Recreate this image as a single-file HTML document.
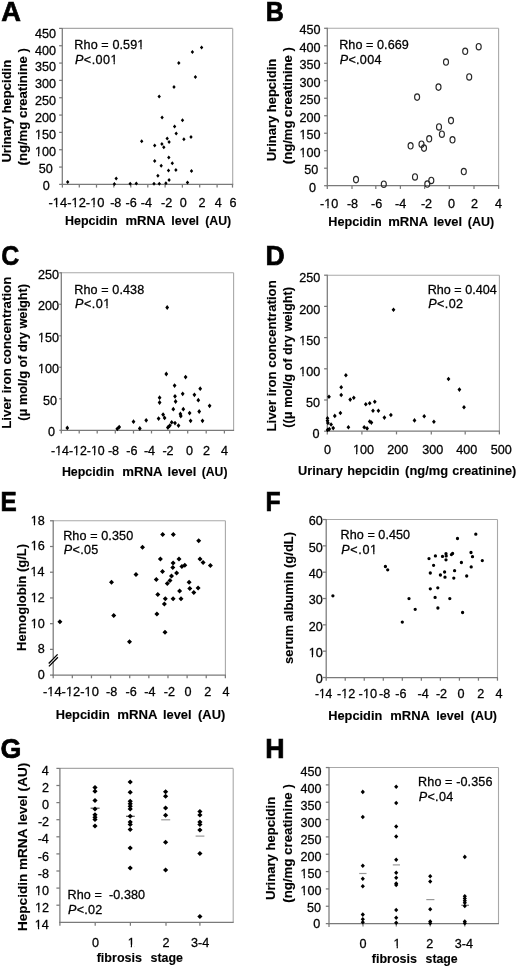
<!DOCTYPE html>
<html><head><meta charset="utf-8"><title>Figure</title>
<style>
html,body{margin:0;padding:0;background:#fff;}
body{width:520px;height:969px;overflow:hidden;}
svg{display:block;font-family:"Liberation Sans",sans-serif;filter:grayscale(1);}
text{white-space:pre;stroke:#000;stroke-width:0.28px;}
text[font-weight="bold"]{stroke-width:0.12px;}
.pl text{stroke-width:0.7px;}
</style></head><body>
<svg width="520" height="969" viewBox="0 0 520 969">
<rect width="520" height="969" fill="#fff"/>
<g class="pl">
<text x="1.22" y="20.92" font-size="28.00" font-weight="bold" fill="#000" textLength="19.68" lengthAdjust="spacingAndGlyphs">A</text>
</g>
<g class="pl">
<text x="265.84" y="21.42" font-size="28.00" font-weight="bold" fill="#000" textLength="18.09" lengthAdjust="spacingAndGlyphs">B</text>
</g>
<g class="pl">
<text x="1.18" y="264.65" font-size="28.00" font-weight="bold" fill="#000" textLength="18.01" lengthAdjust="spacingAndGlyphs">C</text>
</g>
<g class="pl">
<text x="265.44" y="264.62" font-size="28.00" font-weight="bold" fill="#000" textLength="19.28" lengthAdjust="spacingAndGlyphs">D</text>
</g>
<g class="pl">
<text x="0.59" y="511.12" font-size="28.00" font-weight="bold" fill="#000" textLength="16.24" lengthAdjust="spacingAndGlyphs">E</text>
</g>
<g class="pl">
<text x="265.56" y="511.27" font-size="28.00" font-weight="bold" fill="#000" textLength="15.12" lengthAdjust="spacingAndGlyphs">F</text>
</g>
<g class="pl">
<text x="0.40" y="757.75" font-size="28.00" font-weight="bold" fill="#000" textLength="20.86" lengthAdjust="spacingAndGlyphs">G</text>
</g>
<g class="pl">
<text x="265.13" y="757.88" font-size="28.00" font-weight="bold" fill="#000" textLength="19.36" lengthAdjust="spacingAndGlyphs">H</text>
</g>
<line x1="62.30" y1="28.40" x2="232.70" y2="28.40" stroke="#a8a8a8" stroke-width="1.10"/>
<line x1="232.70" y1="28.40" x2="232.70" y2="184.40" stroke="#a8a8a8" stroke-width="1.10"/>
<line x1="62.30" y1="27.90" x2="62.30" y2="185.00" stroke="#7a7a7a" stroke-width="1.25"/>
<line x1="61.70" y1="184.40" x2="233.20" y2="184.40" stroke="#7a7a7a" stroke-width="1.25"/>
<line x1="59.10" y1="184.40" x2="62.30" y2="184.40" stroke="#7a7a7a" stroke-width="1.25"/>
<line x1="59.10" y1="167.07" x2="62.30" y2="167.07" stroke="#7a7a7a" stroke-width="1.25"/>
<line x1="59.10" y1="149.73" x2="62.30" y2="149.73" stroke="#7a7a7a" stroke-width="1.25"/>
<line x1="59.10" y1="132.40" x2="62.30" y2="132.40" stroke="#7a7a7a" stroke-width="1.25"/>
<line x1="59.10" y1="115.07" x2="62.30" y2="115.07" stroke="#7a7a7a" stroke-width="1.25"/>
<line x1="59.10" y1="97.74" x2="62.30" y2="97.74" stroke="#7a7a7a" stroke-width="1.25"/>
<line x1="59.10" y1="80.40" x2="62.30" y2="80.40" stroke="#7a7a7a" stroke-width="1.25"/>
<line x1="59.10" y1="63.07" x2="62.30" y2="63.07" stroke="#7a7a7a" stroke-width="1.25"/>
<line x1="59.10" y1="45.74" x2="62.30" y2="45.74" stroke="#7a7a7a" stroke-width="1.25"/>
<line x1="59.10" y1="28.40" x2="62.30" y2="28.40" stroke="#7a7a7a" stroke-width="1.25"/>
<line x1="62.40" y1="184.40" x2="62.40" y2="187.60" stroke="#7a7a7a" stroke-width="1.25"/>
<line x1="79.30" y1="184.40" x2="79.30" y2="187.60" stroke="#7a7a7a" stroke-width="1.25"/>
<line x1="96.50" y1="184.40" x2="96.50" y2="187.60" stroke="#7a7a7a" stroke-width="1.25"/>
<line x1="113.80" y1="184.40" x2="113.80" y2="187.60" stroke="#7a7a7a" stroke-width="1.25"/>
<line x1="130.80" y1="184.40" x2="130.80" y2="187.60" stroke="#7a7a7a" stroke-width="1.25"/>
<line x1="147.80" y1="184.40" x2="147.80" y2="187.60" stroke="#7a7a7a" stroke-width="1.25"/>
<line x1="165.10" y1="184.40" x2="165.10" y2="187.60" stroke="#7a7a7a" stroke-width="1.25"/>
<line x1="182.40" y1="184.40" x2="182.40" y2="187.60" stroke="#7a7a7a" stroke-width="1.25"/>
<line x1="199.70" y1="184.40" x2="199.70" y2="187.60" stroke="#7a7a7a" stroke-width="1.25"/>
<line x1="217.10" y1="184.40" x2="217.10" y2="187.60" stroke="#7a7a7a" stroke-width="1.25"/>
<line x1="232.50" y1="184.40" x2="232.50" y2="187.60" stroke="#7a7a7a" stroke-width="1.25"/>
<text x="42.70" y="189.55" font-size="12.60">0</text>
<text x="38.80" y="172.67" font-size="12.60">50</text>
<text x="34.90" y="155.79" font-size="12.60">100</text>
<text x="34.90" y="138.91" font-size="12.60">150</text>
<text x="34.90" y="122.03" font-size="12.60">200</text>
<text x="34.90" y="105.15" font-size="12.60">250</text>
<text x="34.90" y="88.27" font-size="12.60">300</text>
<text x="34.90" y="71.39" font-size="12.60">350</text>
<text x="34.90" y="54.51" font-size="12.60">400</text>
<text x="34.90" y="37.63" font-size="12.60">450</text>
<text x="48.59" y="206.80" font-size="12.60" fill="#000" textLength="55.91" lengthAdjust="spacingAndGlyphs">-14-12-10</text>
<text x="110.15" y="206.80" font-size="12.60" fill="#000" >-8</text>
<text x="125.45" y="206.80" font-size="12.60" fill="#000" >-6</text>
<text x="140.70" y="206.80" font-size="12.60" fill="#000" >-4</text>
<text x="161.03" y="206.80" font-size="12.60" fill="#000" >-2</text>
<text x="179.70" y="206.80" font-size="12.60" fill="#000" >0</text>
<text x="198.57" y="206.80" font-size="12.60" fill="#000" >2</text>
<text x="214.83" y="206.80" font-size="12.60" fill="#000" >4</text>
<text x="229.55" y="206.80" font-size="12.60" fill="#000" >6</text>
<text x="64.97" y="225.40" font-size="12.80" font-weight="bold" fill="#000" textLength="52.66" lengthAdjust="spacingAndGlyphs">Hepcidin</text>
<text x="125.53" y="225.40" font-size="12.80" font-weight="bold" fill="#000" textLength="39.83" lengthAdjust="spacingAndGlyphs">mRNA</text>
<text x="171.22" y="225.40" font-size="12.80" font-weight="bold" fill="#000" textLength="27.88" lengthAdjust="spacingAndGlyphs">level</text>
<text x="205.17" y="225.40" font-size="12.80" font-weight="bold" fill="#000" textLength="26.02" lengthAdjust="spacingAndGlyphs">(AU)</text>
<text transform="translate(11.30 162.60) rotate(-90)" font-size="13.00" font-weight="bold" textLength="102.78" lengthAdjust="spacingAndGlyphs">Urinary hepcidin</text>
<text transform="translate(27.10 165.46) rotate(-90)" font-size="13.00" font-weight="bold" textLength="117.30" lengthAdjust="spacingAndGlyphs">(ng/mg creatinine )</text>
<text x="74.35" y="49.30" font-size="12.60" textLength="69.96" lengthAdjust="spacing">Rho = 0.591</text>
<text x="75.00" y="63.80" font-size="12.60" textLength="42.49" lengthAdjust="spacing"><tspan font-style="italic">P</tspan>&lt;.001</text>
<path fill="#000" d="M67.70 180.10L69.40 182.10L67.70 184.10L66.00 182.10ZM114.40 182.00L116.10 184.00L114.40 186.00L112.70 184.00ZM116.20 176.50L117.90 178.50L116.20 180.50L114.50 178.50ZM130.20 181.80L131.90 183.80L130.20 185.80L128.50 183.80ZM136.30 181.50L138.00 183.50L136.30 185.50L134.60 183.50ZM141.70 139.30L143.40 141.30L141.70 143.30L140.00 141.30ZM162.10 115.60L163.80 117.60L162.10 119.60L160.40 117.60ZM182.50 118.30L184.20 120.30L182.50 122.30L180.80 120.30ZM174.60 124.60L176.30 126.60L174.60 128.60L172.90 126.60ZM176.20 131.60L177.90 133.60L176.20 135.60L174.50 133.60ZM167.20 136.60L168.90 138.60L167.20 140.60L165.50 138.60ZM169.10 140.00L170.80 142.00L169.10 144.00L167.40 142.00ZM183.90 137.30L185.60 139.30L183.90 141.30L182.20 139.30ZM191.00 135.00L192.70 137.00L191.00 139.00L189.30 137.00ZM154.70 143.60L156.40 145.60L154.70 147.60L153.00 145.60ZM161.90 142.10L163.60 144.10L161.90 146.10L160.20 144.10ZM163.80 145.30L165.50 147.30L163.80 149.30L162.10 147.30ZM154.70 159.10L156.40 161.10L154.70 163.10L153.00 161.10ZM168.80 155.40L170.50 157.40L168.80 159.40L167.10 157.40ZM172.30 161.20L174.00 163.20L172.30 165.20L170.60 163.20ZM161.20 163.80L162.90 165.80L161.20 167.80L159.50 165.80ZM168.50 168.60L170.20 170.60L168.50 172.60L166.80 170.60ZM175.90 168.10L177.60 170.10L175.90 172.10L174.20 170.10ZM191.50 169.10L193.20 171.10L191.50 173.10L189.80 171.10ZM157.90 173.80L159.60 175.80L157.90 177.80L156.20 175.80ZM169.10 178.10L170.80 180.10L169.10 182.10L167.40 180.10ZM187.50 180.40L189.20 182.40L187.50 184.40L185.80 182.40ZM154.00 181.70L155.70 183.70L154.00 185.70L152.30 183.70ZM159.30 181.70L161.00 183.70L159.30 185.70L157.60 183.70ZM165.90 181.20L167.60 183.20L165.90 185.20L164.20 183.20ZM201.60 45.50L203.30 47.50L201.60 49.50L199.90 47.50ZM192.40 49.90L194.10 51.90L192.40 53.90L190.70 51.90ZM178.80 60.90L180.50 62.90L178.80 64.90L177.10 62.90ZM195.40 74.90L197.10 76.90L195.40 78.90L193.70 76.90ZM174.00 85.10L175.70 87.10L174.00 89.10L172.30 87.10ZM159.20 94.50L160.90 96.50L159.20 98.50L157.50 96.50Z"/>
<line x1="327.30" y1="28.30" x2="498.60" y2="28.30" stroke="#a8a8a8" stroke-width="1.10"/>
<line x1="498.60" y1="28.30" x2="498.60" y2="185.70" stroke="#a8a8a8" stroke-width="1.10"/>
<line x1="327.30" y1="27.80" x2="327.30" y2="186.30" stroke="#7a7a7a" stroke-width="1.25"/>
<line x1="326.70" y1="185.70" x2="499.10" y2="185.70" stroke="#7a7a7a" stroke-width="1.25"/>
<line x1="324.10" y1="185.70" x2="327.30" y2="185.70" stroke="#7a7a7a" stroke-width="1.25"/>
<line x1="324.10" y1="168.21" x2="327.30" y2="168.21" stroke="#7a7a7a" stroke-width="1.25"/>
<line x1="324.10" y1="150.72" x2="327.30" y2="150.72" stroke="#7a7a7a" stroke-width="1.25"/>
<line x1="324.10" y1="133.23" x2="327.30" y2="133.23" stroke="#7a7a7a" stroke-width="1.25"/>
<line x1="324.10" y1="115.74" x2="327.30" y2="115.74" stroke="#7a7a7a" stroke-width="1.25"/>
<line x1="324.10" y1="98.25" x2="327.30" y2="98.25" stroke="#7a7a7a" stroke-width="1.25"/>
<line x1="324.10" y1="80.76" x2="327.30" y2="80.76" stroke="#7a7a7a" stroke-width="1.25"/>
<line x1="324.10" y1="63.27" x2="327.30" y2="63.27" stroke="#7a7a7a" stroke-width="1.25"/>
<line x1="324.10" y1="45.78" x2="327.30" y2="45.78" stroke="#7a7a7a" stroke-width="1.25"/>
<line x1="324.10" y1="28.29" x2="327.30" y2="28.29" stroke="#7a7a7a" stroke-width="1.25"/>
<line x1="327.30" y1="185.70" x2="327.30" y2="188.90" stroke="#7a7a7a" stroke-width="1.25"/>
<line x1="352.00" y1="185.70" x2="352.00" y2="188.90" stroke="#7a7a7a" stroke-width="1.25"/>
<line x1="375.80" y1="185.70" x2="375.80" y2="188.90" stroke="#7a7a7a" stroke-width="1.25"/>
<line x1="400.40" y1="185.70" x2="400.40" y2="188.90" stroke="#7a7a7a" stroke-width="1.25"/>
<line x1="424.60" y1="185.70" x2="424.60" y2="188.90" stroke="#7a7a7a" stroke-width="1.25"/>
<line x1="449.30" y1="185.70" x2="449.30" y2="188.90" stroke="#7a7a7a" stroke-width="1.25"/>
<line x1="474.00" y1="185.70" x2="474.00" y2="188.90" stroke="#7a7a7a" stroke-width="1.25"/>
<line x1="498.60" y1="185.70" x2="498.60" y2="188.90" stroke="#7a7a7a" stroke-width="1.25"/>
<text x="308.90" y="191.55" font-size="12.60">0</text>
<text x="304.20" y="174.06" font-size="12.60">50</text>
<text x="299.50" y="156.57" font-size="12.60">100</text>
<text x="299.50" y="139.08" font-size="12.60">150</text>
<text x="299.50" y="121.59" font-size="12.60">200</text>
<text x="299.50" y="104.10" font-size="12.60">250</text>
<text x="299.50" y="86.61" font-size="12.60">300</text>
<text x="299.50" y="69.12" font-size="12.60">350</text>
<text x="299.50" y="51.63" font-size="12.60">400</text>
<text x="299.50" y="34.14" font-size="12.60">450</text>
<text x="320.07" y="208.20" font-size="12.60" fill="#000" >-10</text>
<text x="346.90" y="208.20" font-size="12.60" fill="#000" >-8</text>
<text x="371.10" y="208.20" font-size="12.60" fill="#000" >-6</text>
<text x="395.10" y="208.20" font-size="12.60" fill="#000" >-4</text>
<text x="420.93" y="208.20" font-size="12.60" fill="#000" >-2</text>
<text x="448.00" y="208.20" font-size="12.60" fill="#000" >0</text>
<text x="471.08" y="208.20" font-size="12.60" fill="#000" >2</text>
<text x="495.02" y="208.20" font-size="12.60" fill="#000" >4</text>
<text x="328.26" y="225.90" font-size="12.80" font-weight="bold" fill="#000" textLength="53.48" lengthAdjust="spacingAndGlyphs">Hepcidin</text>
<text x="388.23" y="225.90" font-size="12.80" font-weight="bold" fill="#000" textLength="39.94" lengthAdjust="spacingAndGlyphs">mRNA</text>
<text x="433.49" y="225.90" font-size="12.80" font-weight="bold" fill="#000" textLength="28.63" lengthAdjust="spacingAndGlyphs">level</text>
<text x="467.77" y="225.90" font-size="12.80" font-weight="bold" fill="#000" textLength="26.33" lengthAdjust="spacingAndGlyphs">(AU)</text>
<text transform="translate(275.60 161.30) rotate(-90)" font-size="13.00" font-weight="bold" textLength="102.47" lengthAdjust="spacingAndGlyphs">Urinary hepcidin</text>
<text transform="translate(292.10 164.15) rotate(-90)" font-size="13.00" font-weight="bold" textLength="116.99" lengthAdjust="spacingAndGlyphs">(ng/mg creatinine )</text>
<text x="339.15" y="48.80" font-size="12.60" textLength="69.66" lengthAdjust="spacing">Rho = 0.669</text>
<text x="339.80" y="63.50" font-size="12.60" textLength="41.63" lengthAdjust="spacing"><tspan font-style="italic">P</tspan>&lt;.004</text>
<ellipse cx="478.70" cy="46.70" rx="2.50" ry="3.20" fill="none" stroke="#2a2a2a" stroke-width="1.15"/>
<ellipse cx="465.20" cy="51.30" rx="2.50" ry="3.20" fill="none" stroke="#2a2a2a" stroke-width="1.15"/>
<ellipse cx="446.00" cy="62.10" rx="2.50" ry="3.20" fill="none" stroke="#2a2a2a" stroke-width="1.15"/>
<ellipse cx="469.20" cy="76.90" rx="2.50" ry="3.20" fill="none" stroke="#2a2a2a" stroke-width="1.15"/>
<ellipse cx="438.50" cy="87.10" rx="2.50" ry="3.20" fill="none" stroke="#2a2a2a" stroke-width="1.15"/>
<ellipse cx="417.10" cy="97.10" rx="2.50" ry="3.20" fill="none" stroke="#2a2a2a" stroke-width="1.15"/>
<ellipse cx="451.00" cy="120.60" rx="2.50" ry="3.20" fill="none" stroke="#2a2a2a" stroke-width="1.15"/>
<ellipse cx="439.00" cy="126.90" rx="2.50" ry="3.20" fill="none" stroke="#2a2a2a" stroke-width="1.15"/>
<ellipse cx="441.90" cy="134.20" rx="2.50" ry="3.20" fill="none" stroke="#2a2a2a" stroke-width="1.15"/>
<ellipse cx="429.20" cy="138.80" rx="2.50" ry="3.20" fill="none" stroke="#2a2a2a" stroke-width="1.15"/>
<ellipse cx="452.50" cy="139.80" rx="2.50" ry="3.20" fill="none" stroke="#2a2a2a" stroke-width="1.15"/>
<ellipse cx="410.60" cy="145.80" rx="2.50" ry="3.20" fill="none" stroke="#2a2a2a" stroke-width="1.15"/>
<ellipse cx="421.50" cy="144.20" rx="2.50" ry="3.20" fill="none" stroke="#2a2a2a" stroke-width="1.15"/>
<ellipse cx="424.00" cy="148.10" rx="2.50" ry="3.20" fill="none" stroke="#2a2a2a" stroke-width="1.15"/>
<ellipse cx="415.00" cy="176.90" rx="2.50" ry="3.20" fill="none" stroke="#2a2a2a" stroke-width="1.15"/>
<ellipse cx="463.80" cy="171.50" rx="2.50" ry="3.20" fill="none" stroke="#2a2a2a" stroke-width="1.15"/>
<ellipse cx="431.30" cy="180.40" rx="2.50" ry="3.20" fill="none" stroke="#2a2a2a" stroke-width="1.15"/>
<ellipse cx="427.30" cy="184.00" rx="2.50" ry="3.20" fill="none" stroke="#2a2a2a" stroke-width="1.15"/>
<ellipse cx="356.00" cy="179.60" rx="2.50" ry="3.20" fill="none" stroke="#2a2a2a" stroke-width="1.15"/>
<ellipse cx="383.80" cy="184.20" rx="2.50" ry="3.20" fill="none" stroke="#2a2a2a" stroke-width="1.15"/>
<line x1="61.30" y1="272.80" x2="233.60" y2="272.80" stroke="#a8a8a8" stroke-width="1.10"/>
<line x1="233.60" y1="272.80" x2="233.60" y2="430.30" stroke="#a8a8a8" stroke-width="1.10"/>
<line x1="61.30" y1="272.30" x2="61.30" y2="430.90" stroke="#7a7a7a" stroke-width="1.25"/>
<line x1="60.70" y1="430.30" x2="234.10" y2="430.30" stroke="#7a7a7a" stroke-width="1.25"/>
<line x1="59.30" y1="430.30" x2="61.30" y2="430.30" stroke="#7a7a7a" stroke-width="1.25"/>
<line x1="59.30" y1="398.80" x2="61.30" y2="398.80" stroke="#7a7a7a" stroke-width="1.25"/>
<line x1="59.30" y1="367.30" x2="61.30" y2="367.30" stroke="#7a7a7a" stroke-width="1.25"/>
<line x1="59.30" y1="335.80" x2="61.30" y2="335.80" stroke="#7a7a7a" stroke-width="1.25"/>
<line x1="59.30" y1="304.30" x2="61.30" y2="304.30" stroke="#7a7a7a" stroke-width="1.25"/>
<line x1="59.30" y1="272.80" x2="61.30" y2="272.80" stroke="#7a7a7a" stroke-width="1.25"/>
<line x1="61.30" y1="430.30" x2="61.30" y2="433.50" stroke="#7a7a7a" stroke-width="1.25"/>
<line x1="79.20" y1="430.30" x2="79.20" y2="433.50" stroke="#7a7a7a" stroke-width="1.25"/>
<line x1="97.20" y1="430.30" x2="97.20" y2="433.50" stroke="#7a7a7a" stroke-width="1.25"/>
<line x1="115.30" y1="430.30" x2="115.30" y2="433.50" stroke="#7a7a7a" stroke-width="1.25"/>
<line x1="133.50" y1="430.30" x2="133.50" y2="433.50" stroke="#7a7a7a" stroke-width="1.25"/>
<line x1="151.50" y1="430.30" x2="151.50" y2="433.50" stroke="#7a7a7a" stroke-width="1.25"/>
<line x1="169.70" y1="430.30" x2="169.70" y2="433.50" stroke="#7a7a7a" stroke-width="1.25"/>
<line x1="187.70" y1="430.30" x2="187.70" y2="433.50" stroke="#7a7a7a" stroke-width="1.25"/>
<line x1="206.20" y1="430.30" x2="206.20" y2="433.50" stroke="#7a7a7a" stroke-width="1.25"/>
<line x1="224.40" y1="430.30" x2="224.40" y2="433.50" stroke="#7a7a7a" stroke-width="1.25"/>
<text x="48.10" y="436.05" font-size="12.60">0</text>
<text x="43.00" y="404.55" font-size="12.60">50</text>
<text x="37.90" y="373.05" font-size="12.60">100</text>
<text x="37.90" y="341.55" font-size="12.60">150</text>
<text x="37.90" y="310.05" font-size="12.60">200</text>
<text x="37.90" y="278.55" font-size="12.60">250</text>
<text x="51.06" y="455.30" font-size="12.60" fill="#000" textLength="53.62" lengthAdjust="spacingAndGlyphs">-14-12-10</text>
<text x="107.90" y="455.30" font-size="12.60" fill="#000" >-8</text>
<text x="126.20" y="455.30" font-size="12.60" fill="#000" >-6</text>
<text x="143.90" y="455.30" font-size="12.60" fill="#000" >-4</text>
<text x="162.43" y="455.30" font-size="12.60" fill="#000" >-2</text>
<text x="186.00" y="455.30" font-size="12.60" fill="#000" >0</text>
<text x="203.07" y="455.30" font-size="12.60" fill="#000" >2</text>
<text x="220.93" y="455.30" font-size="12.60" fill="#000" >4</text>
<text x="61.88" y="475.60" font-size="12.80" font-weight="bold" fill="#000" textLength="52.45" lengthAdjust="spacingAndGlyphs">Hepcidin</text>
<text x="122.23" y="475.60" font-size="12.80" font-weight="bold" fill="#000" textLength="40.25" lengthAdjust="spacingAndGlyphs">mRNA</text>
<text x="167.59" y="475.60" font-size="12.80" font-weight="bold" fill="#000" textLength="28.63" lengthAdjust="spacingAndGlyphs">level</text>
<text x="201.78" y="475.60" font-size="12.80" font-weight="bold" fill="#000" textLength="25.70" lengthAdjust="spacingAndGlyphs">(AU)</text>
<text transform="translate(11.10 428.77) rotate(-90)" font-size="13.00" font-weight="bold" textLength="152.08" lengthAdjust="spacingAndGlyphs">Liver iron concentration</text>
<text transform="translate(27.10 420.64) rotate(-90)" font-size="13.00" font-weight="bold" textLength="136.66" lengthAdjust="spacingAndGlyphs">(μ mol/g of dry weight)</text>
<text x="74.35" y="293.50" font-size="12.60" textLength="69.81" lengthAdjust="spacing">Rho = 0.438</text>
<text x="75.00" y="307.90" font-size="12.60" textLength="35.33" lengthAdjust="spacing"><tspan font-style="italic">P</tspan>&lt;.01</text>
<path fill="#000" d="M67.30 425.50L69.20 427.90L67.30 430.30L65.40 427.90ZM117.30 426.40L119.20 428.80L117.30 431.20L115.40 428.80ZM119.20 424.70L121.10 427.10L119.20 429.50L117.30 427.10ZM133.50 419.30L135.40 421.70L133.50 424.10L131.60 421.70ZM139.80 426.10L141.70 428.50L139.80 430.90L137.90 428.50ZM146.20 417.90L148.10 420.30L146.20 422.70L144.30 420.30ZM158.60 416.20L160.50 418.60L158.60 421.00L156.70 418.60ZM159.60 395.30L161.50 397.70L159.60 400.10L157.70 397.70ZM159.60 400.10L161.50 402.50L159.60 404.90L157.70 402.50ZM163.10 412.20L165.00 414.60L163.10 417.00L161.20 414.60ZM164.60 415.50L166.50 417.90L164.60 420.30L162.70 417.90ZM166.30 371.60L168.20 374.00L166.30 376.40L164.40 374.00ZM167.20 305.10L169.10 307.50L167.20 309.90L165.30 307.50ZM167.90 425.10L169.80 427.50L167.90 429.90L166.00 427.50ZM169.80 423.20L171.70 425.60L169.80 428.00L167.90 425.60ZM171.70 419.90L173.60 422.30L171.70 424.70L169.80 422.30ZM173.30 406.80L175.20 409.20L173.30 411.60L171.40 409.20ZM174.60 383.20L176.50 385.60L174.60 388.00L172.70 385.60ZM175.00 393.90L176.90 396.30L175.00 398.70L173.10 396.30ZM175.60 399.10L177.50 401.50L175.60 403.90L173.70 401.50ZM175.00 420.70L176.90 423.10L175.00 425.50L173.10 423.10ZM178.50 423.20L180.40 425.60L178.50 428.00L176.60 425.60ZM180.40 411.60L182.30 414.00L180.40 416.40L178.50 414.00ZM180.80 413.60L182.70 416.00L180.80 418.40L178.90 416.00ZM182.70 391.40L184.60 393.80L182.70 396.20L180.80 393.80ZM183.30 406.80L185.20 409.20L183.30 411.60L181.40 409.20ZM185.60 374.70L187.50 377.10L185.60 379.50L183.70 377.10ZM189.60 410.70L191.50 413.10L189.60 415.50L187.70 413.10ZM190.60 418.40L192.50 420.80L190.60 423.20L188.70 420.80ZM194.40 392.40L196.30 394.80L194.40 397.20L192.50 394.80ZM198.30 397.80L200.20 400.20L198.30 402.60L196.40 400.20ZM199.20 409.10L201.10 411.50L199.20 413.90L197.30 411.50ZM200.20 386.30L202.10 388.70L200.20 391.10L198.30 388.70ZM202.50 418.40L204.40 420.80L202.50 423.20L200.60 420.80ZM209.60 403.40L211.50 405.80L209.60 408.20L207.70 405.80Z"/>
<line x1="327.30" y1="275.20" x2="499.40" y2="275.20" stroke="#a8a8a8" stroke-width="1.10"/>
<line x1="499.40" y1="275.20" x2="499.40" y2="431.20" stroke="#a8a8a8" stroke-width="1.10"/>
<line x1="327.30" y1="274.70" x2="327.30" y2="431.80" stroke="#7a7a7a" stroke-width="1.25"/>
<line x1="326.70" y1="431.20" x2="499.90" y2="431.20" stroke="#7a7a7a" stroke-width="1.25"/>
<line x1="324.10" y1="431.20" x2="327.30" y2="431.20" stroke="#7a7a7a" stroke-width="1.25"/>
<line x1="324.10" y1="400.00" x2="327.30" y2="400.00" stroke="#7a7a7a" stroke-width="1.25"/>
<line x1="324.10" y1="368.80" x2="327.30" y2="368.80" stroke="#7a7a7a" stroke-width="1.25"/>
<line x1="324.10" y1="337.60" x2="327.30" y2="337.60" stroke="#7a7a7a" stroke-width="1.25"/>
<line x1="324.10" y1="306.40" x2="327.30" y2="306.40" stroke="#7a7a7a" stroke-width="1.25"/>
<line x1="324.10" y1="275.20" x2="327.30" y2="275.20" stroke="#7a7a7a" stroke-width="1.25"/>
<line x1="327.30" y1="431.20" x2="327.30" y2="434.40" stroke="#7a7a7a" stroke-width="1.25"/>
<line x1="361.90" y1="431.20" x2="361.90" y2="434.40" stroke="#7a7a7a" stroke-width="1.25"/>
<line x1="396.50" y1="431.20" x2="396.50" y2="434.40" stroke="#7a7a7a" stroke-width="1.25"/>
<line x1="431.30" y1="431.20" x2="431.30" y2="434.40" stroke="#7a7a7a" stroke-width="1.25"/>
<line x1="465.20" y1="431.20" x2="465.20" y2="434.40" stroke="#7a7a7a" stroke-width="1.25"/>
<line x1="499.40" y1="431.20" x2="499.40" y2="434.40" stroke="#7a7a7a" stroke-width="1.25"/>
<text x="312.50" y="438.35" font-size="12.60">0</text>
<text x="305.90" y="407.15" font-size="12.60">50</text>
<text x="299.30" y="375.95" font-size="12.60">100</text>
<text x="299.30" y="344.75" font-size="12.60">150</text>
<text x="299.30" y="313.55" font-size="12.60">200</text>
<text x="299.30" y="282.35" font-size="12.60">250</text>
<text x="324.10" y="454.30" font-size="12.60" fill="#000" >0</text>
<text x="352.95" y="454.30" font-size="12.60" fill="#000" >100</text>
<text x="387.23" y="454.30" font-size="12.60" fill="#000" >200</text>
<text x="422.30" y="454.30" font-size="12.60" fill="#000" >300</text>
<text x="456.30" y="454.30" font-size="12.60" fill="#000" >400</text>
<text x="490.80" y="454.30" font-size="12.60" fill="#000" >500</text>
<text x="297.95" y="475.10" font-size="12.80" font-weight="bold" fill="#000" >Urinary</text>
<text x="347.20" y="475.10" font-size="12.80" font-weight="bold" fill="#000" textLength="52.37" lengthAdjust="spacingAndGlyphs">hepcidin</text>
<text x="405.14" y="475.10" font-size="12.80" font-weight="bold" fill="#000" textLength="43.02" lengthAdjust="spacingAndGlyphs">(ng/mg</text>
<text x="452.21" y="475.10" font-size="12.80" font-weight="bold" fill="#000" textLength="63.92" lengthAdjust="spacingAndGlyphs">creatinine)</text>
<text transform="translate(276.20 431.56) rotate(-90)" font-size="13.00" font-weight="bold" textLength="151.28" lengthAdjust="spacingAndGlyphs">Liver iron concentration</text>
<text transform="translate(292.10 427.64) rotate(-90)" font-size="13.00" font-weight="bold" textLength="140.54" lengthAdjust="spacingAndGlyphs">((μ mol/g of dry weight)</text>
<text x="427.65" y="293.70" font-size="12.60" textLength="69.21" lengthAdjust="spacing">Rho = 0.404</text>
<text x="428.30" y="307.90" font-size="12.60" textLength="34.83" lengthAdjust="spacing"><tspan font-style="italic">P</tspan>&lt;.02</text>
<path fill="#000" d="M345.90 373.00L347.80 375.30L345.90 377.60L344.00 375.30ZM341.20 385.00L343.10 387.30L341.20 389.60L339.30 387.30ZM341.20 392.70L343.10 395.00L341.20 397.30L339.30 395.00ZM329.00 394.40L330.90 396.70L329.00 399.00L327.10 396.70ZM350.20 397.30L352.10 399.60L350.20 401.90L348.30 399.60ZM353.80 395.50L355.70 397.80L353.80 400.10L351.90 397.80ZM365.80 401.90L367.70 404.20L365.80 406.50L363.90 404.20ZM369.70 400.90L371.60 403.20L369.70 405.50L367.80 403.20ZM374.80 399.40L376.70 401.70L374.80 404.00L372.90 401.70ZM373.00 408.50L374.90 410.80L373.00 413.10L371.10 410.80ZM378.40 408.50L380.30 410.80L378.40 413.10L376.50 410.80ZM340.40 410.70L342.30 413.00L340.40 415.30L338.50 413.00ZM334.80 413.60L336.70 415.90L334.80 418.20L332.90 415.90ZM384.40 415.30L386.30 417.60L384.40 419.90L382.50 417.60ZM390.90 412.70L392.80 415.00L390.90 417.30L389.00 415.00ZM327.50 416.00L329.40 418.30L327.50 420.60L325.60 418.30ZM327.50 418.50L329.40 420.80L327.50 423.10L325.60 420.80ZM327.90 420.60L329.80 422.90L327.90 425.20L326.00 422.90ZM331.10 422.20L333.00 424.50L331.10 426.80L329.20 424.50ZM369.70 419.20L371.60 421.50L369.70 423.80L367.80 421.50ZM371.40 420.30L373.30 422.60L371.40 424.90L369.50 422.60ZM348.40 425.00L350.30 427.30L348.40 429.60L346.50 427.30ZM364.20 425.00L366.10 427.30L364.20 429.60L362.30 427.30ZM367.10 426.10L369.00 428.40L367.10 430.70L365.20 428.40ZM333.20 425.80L335.10 428.10L333.20 430.40L331.30 428.10ZM329.30 426.80L331.20 429.10L329.30 431.40L327.40 429.10ZM327.60 427.60L329.50 429.90L327.60 432.20L325.70 429.90ZM393.50 307.50L395.40 309.80L393.50 312.10L391.60 309.80ZM414.50 418.10L416.40 420.40L414.50 422.70L412.60 420.40ZM424.20 414.00L426.10 416.30L424.20 418.60L422.30 416.30ZM433.90 419.50L435.80 421.80L433.90 424.10L432.00 421.80ZM448.50 376.70L450.40 379.00L448.50 381.30L446.60 379.00ZM459.40 387.30L461.30 389.60L459.40 391.90L457.50 389.60ZM464.00 405.00L465.90 407.30L464.00 409.60L462.10 407.30Z"/>
<line x1="53.20" y1="520.80" x2="225.40" y2="520.80" stroke="#a8a8a8" stroke-width="1.10"/>
<line x1="225.40" y1="520.80" x2="225.40" y2="675.10" stroke="#a8a8a8" stroke-width="1.10"/>
<line x1="53.20" y1="520.30" x2="53.20" y2="675.70" stroke="#7a7a7a" stroke-width="1.25"/>
<line x1="52.60" y1="675.10" x2="225.90" y2="675.10" stroke="#7a7a7a" stroke-width="1.25"/>
<rect x="50.20" y="658.20" width="6" height="3" fill="#fff"/>
<line x1="50.00" y1="675.10" x2="53.20" y2="675.10" stroke="#7a7a7a" stroke-width="1.25"/>
<line x1="50.00" y1="649.38" x2="53.20" y2="649.38" stroke="#7a7a7a" stroke-width="1.25"/>
<line x1="50.00" y1="623.66" x2="53.20" y2="623.66" stroke="#7a7a7a" stroke-width="1.25"/>
<line x1="50.00" y1="597.94" x2="53.20" y2="597.94" stroke="#7a7a7a" stroke-width="1.25"/>
<line x1="50.00" y1="572.22" x2="53.20" y2="572.22" stroke="#7a7a7a" stroke-width="1.25"/>
<line x1="50.00" y1="546.50" x2="53.20" y2="546.50" stroke="#7a7a7a" stroke-width="1.25"/>
<line x1="50.00" y1="520.78" x2="53.20" y2="520.78" stroke="#7a7a7a" stroke-width="1.25"/>
<text x="37.70" y="679.05" font-size="12.60">0</text>
<text x="37.75" y="653.33" font-size="12.60">8</text>
<text x="30.70" y="627.61" font-size="12.60">10</text>
<text x="30.80" y="601.94" font-size="12.60">12</text>
<text x="30.55" y="576.15" font-size="12.60">14</text>
<text x="30.75" y="550.45" font-size="12.60">16</text>
<text x="30.75" y="524.73" font-size="12.60">18</text>
<path d="M48.7 663.5 L57.6 654.4 M48.9 666.4 L57.9 657.3" stroke="#000" stroke-width="1.3" fill="none"/>
<line x1="53.20" y1="675.10" x2="53.20" y2="678.30" stroke="#7a7a7a" stroke-width="1.25"/>
<line x1="72.33" y1="675.10" x2="72.33" y2="678.30" stroke="#7a7a7a" stroke-width="1.25"/>
<line x1="91.46" y1="675.10" x2="91.46" y2="678.30" stroke="#7a7a7a" stroke-width="1.25"/>
<line x1="110.59" y1="675.10" x2="110.59" y2="678.30" stroke="#7a7a7a" stroke-width="1.25"/>
<line x1="129.72" y1="675.10" x2="129.72" y2="678.30" stroke="#7a7a7a" stroke-width="1.25"/>
<line x1="148.85" y1="675.10" x2="148.85" y2="678.30" stroke="#7a7a7a" stroke-width="1.25"/>
<line x1="167.98" y1="675.10" x2="167.98" y2="678.30" stroke="#7a7a7a" stroke-width="1.25"/>
<line x1="187.11" y1="675.10" x2="187.11" y2="678.30" stroke="#7a7a7a" stroke-width="1.25"/>
<line x1="206.24" y1="675.10" x2="206.24" y2="678.30" stroke="#7a7a7a" stroke-width="1.25"/>
<line x1="225.37" y1="675.10" x2="225.37" y2="678.30" stroke="#7a7a7a" stroke-width="1.25"/>
<text x="42.94" y="696.20" font-size="12.60" fill="#000" textLength="55.96" lengthAdjust="spacingAndGlyphs">-14-12-10</text>
<text x="106.10" y="696.20" font-size="12.60" fill="#000" >-8</text>
<text x="125.50" y="696.20" font-size="12.60" fill="#000" >-6</text>
<text x="144.20" y="696.20" font-size="12.60" fill="#000" >-4</text>
<text x="163.73" y="696.20" font-size="12.60" fill="#000" >-2</text>
<text x="184.40" y="696.20" font-size="12.60" fill="#000" >0</text>
<text x="204.17" y="696.20" font-size="12.60" fill="#000" >2</text>
<text x="222.43" y="696.20" font-size="12.60" fill="#000" >4</text>
<text x="55.75" y="718.90" font-size="12.80" font-weight="bold" fill="#000" >Hepcidin</text>
<text x="117.23" y="718.90" font-size="12.80" font-weight="bold" fill="#000" textLength="40.25" lengthAdjust="spacingAndGlyphs">mRNA</text>
<text x="162.99" y="718.90" font-size="12.80" font-weight="bold" fill="#000" textLength="28.63" lengthAdjust="spacingAndGlyphs">level</text>
<text x="198.05" y="718.90" font-size="12.80" font-weight="bold" fill="#000" textLength="27.17" lengthAdjust="spacingAndGlyphs">(AU)</text>
<text transform="translate(26.20 650.95) rotate(-90)" font-size="13.00" font-weight="bold" textLength="107.07" lengthAdjust="spacingAndGlyphs">Hemoglobin (g/L)</text>
<text x="63.15" y="539.60" font-size="12.60" textLength="70.06" lengthAdjust="spacing">Rho = 0.350</text>
<text x="63.80" y="554.40" font-size="12.60" textLength="34.42" lengthAdjust="spacing"><tspan font-style="italic">P</tspan>&lt;.05</text>
<path fill="#000" d="M59.90 619.30L62.40 621.80L59.90 624.30L57.40 621.80ZM113.75 613.00L116.25 615.50L113.75 618.00L111.25 615.50ZM129.50 639.25L132.00 641.75L129.50 644.25L127.00 641.75ZM111.50 579.80L114.00 582.30L111.50 584.80L109.00 582.30ZM136.00 572.10L138.50 574.60L136.00 577.10L133.50 574.60ZM142.50 544.70L145.00 547.20L142.50 549.70L140.00 547.20ZM162.70 531.90L165.20 534.40L162.70 536.90L160.20 534.40ZM173.30 531.90L175.80 534.40L173.30 536.90L170.80 534.40ZM198.70 538.30L201.20 540.80L198.70 543.30L196.20 540.80ZM160.40 556.50L162.90 559.00L160.40 561.50L157.90 559.00ZM179.00 556.50L181.50 559.00L179.00 561.50L176.50 559.00ZM200.00 556.50L202.50 559.00L200.00 561.50L197.50 559.00ZM203.10 560.00L205.60 562.50L203.10 565.00L200.60 562.50ZM210.40 563.10L212.90 565.60L210.40 568.10L207.90 565.60ZM173.10 560.60L175.60 563.10L173.10 565.60L170.60 563.10ZM172.80 565.00L175.30 567.50L172.80 570.00L170.30 567.50ZM181.90 564.10L184.40 566.60L181.90 569.10L179.40 566.60ZM184.80 562.80L187.30 565.30L184.80 567.80L182.30 565.30ZM162.50 569.10L165.00 571.60L162.50 574.10L160.00 571.60ZM176.60 570.40L179.10 572.90L176.60 575.40L174.10 572.90ZM171.50 573.40L174.00 575.90L171.50 578.40L169.00 575.90ZM156.30 576.90L158.80 579.40L156.30 581.90L153.80 579.40ZM170.00 578.10L172.50 580.60L170.00 583.10L167.50 580.60ZM167.30 581.00L169.80 583.50L167.30 586.00L164.80 583.50ZM189.10 579.80L191.60 582.30L189.10 584.80L186.60 582.30ZM189.80 586.00L192.30 588.50L189.80 591.00L187.30 588.50ZM198.10 585.60L200.60 588.10L198.10 590.60L195.60 588.10ZM193.80 590.00L196.30 592.50L193.80 595.00L191.30 592.50ZM179.60 588.50L182.10 591.00L179.60 593.50L177.10 591.00ZM157.80 591.90L160.30 594.40L157.80 596.90L155.30 594.40ZM165.30 596.30L167.80 598.80L165.30 601.30L162.80 598.80ZM173.10 596.30L175.60 598.80L173.10 601.30L170.60 598.80ZM181.00 596.30L183.50 598.80L181.00 601.30L178.50 598.80ZM164.40 601.50L166.90 604.00L164.40 606.50L161.90 604.00ZM156.90 611.50L159.40 614.00L156.90 616.50L154.40 614.00ZM165.00 629.80L167.50 632.30L165.00 634.80L162.50 632.30Z"/>
<line x1="326.20" y1="519.50" x2="497.50" y2="519.50" stroke="#a8a8a8" stroke-width="1.10"/>
<line x1="497.50" y1="519.50" x2="497.50" y2="677.50" stroke="#a8a8a8" stroke-width="1.10"/>
<line x1="326.20" y1="519.00" x2="326.20" y2="678.10" stroke="#7a7a7a" stroke-width="1.25"/>
<line x1="325.60" y1="677.50" x2="498.00" y2="677.50" stroke="#7a7a7a" stroke-width="1.25"/>
<line x1="323.00" y1="677.50" x2="326.20" y2="677.50" stroke="#7a7a7a" stroke-width="1.25"/>
<line x1="323.00" y1="651.17" x2="326.20" y2="651.17" stroke="#7a7a7a" stroke-width="1.25"/>
<line x1="323.00" y1="624.84" x2="326.20" y2="624.84" stroke="#7a7a7a" stroke-width="1.25"/>
<line x1="323.00" y1="598.51" x2="326.20" y2="598.51" stroke="#7a7a7a" stroke-width="1.25"/>
<line x1="323.00" y1="572.18" x2="326.20" y2="572.18" stroke="#7a7a7a" stroke-width="1.25"/>
<line x1="323.00" y1="545.85" x2="326.20" y2="545.85" stroke="#7a7a7a" stroke-width="1.25"/>
<line x1="323.00" y1="519.52" x2="326.20" y2="519.52" stroke="#7a7a7a" stroke-width="1.25"/>
<text x="315.70" y="683.35" font-size="12.60">0</text>
<text x="308.70" y="657.02" font-size="12.60">10</text>
<text x="308.70" y="630.69" font-size="12.60">20</text>
<text x="308.70" y="604.36" font-size="12.60">30</text>
<text x="308.70" y="578.03" font-size="12.60">40</text>
<text x="308.70" y="551.70" font-size="12.60">50</text>
<text x="308.70" y="525.37" font-size="12.60">60</text>
<line x1="326.20" y1="677.50" x2="326.20" y2="680.70" stroke="#7a7a7a" stroke-width="1.25"/>
<line x1="345.23" y1="677.50" x2="345.23" y2="680.70" stroke="#7a7a7a" stroke-width="1.25"/>
<line x1="364.26" y1="677.50" x2="364.26" y2="680.70" stroke="#7a7a7a" stroke-width="1.25"/>
<line x1="383.29" y1="677.50" x2="383.29" y2="680.70" stroke="#7a7a7a" stroke-width="1.25"/>
<line x1="402.32" y1="677.50" x2="402.32" y2="680.70" stroke="#7a7a7a" stroke-width="1.25"/>
<line x1="421.35" y1="677.50" x2="421.35" y2="680.70" stroke="#7a7a7a" stroke-width="1.25"/>
<line x1="440.38" y1="677.50" x2="440.38" y2="680.70" stroke="#7a7a7a" stroke-width="1.25"/>
<line x1="459.41" y1="677.50" x2="459.41" y2="680.70" stroke="#7a7a7a" stroke-width="1.25"/>
<line x1="478.44" y1="677.50" x2="478.44" y2="680.70" stroke="#7a7a7a" stroke-width="1.25"/>
<line x1="497.47" y1="677.50" x2="497.47" y2="680.70" stroke="#7a7a7a" stroke-width="1.25"/>
<text x="314.88" y="698.30" font-size="12.60" fill="#000" textLength="17.37" lengthAdjust="spacingAndGlyphs">-14</text>
<text x="336.95" y="698.30" font-size="12.60" fill="#000" >-12</text>
<text x="358.64" y="698.30" font-size="12.60" fill="#000" textLength="18.48" lengthAdjust="spacingAndGlyphs">-10</text>
<text x="379.00" y="698.30" font-size="12.60" fill="#000" >-8</text>
<text x="395.30" y="698.30" font-size="12.60" fill="#000" >-6</text>
<text x="417.60" y="698.30" font-size="12.60" fill="#000" >-4</text>
<text x="435.93" y="698.30" font-size="12.60" fill="#000" >-2</text>
<text x="457.60" y="698.30" font-size="12.60" fill="#000" >0</text>
<text x="477.28" y="698.30" font-size="12.60" fill="#000" >2</text>
<text x="495.52" y="698.30" font-size="12.60" fill="#000" >4</text>
<text x="328.25" y="719.90" font-size="12.80" font-weight="bold" fill="#000" >Hepcidin</text>
<text x="390.24" y="719.90" font-size="12.80" font-weight="bold" fill="#000" textLength="39.63" lengthAdjust="spacingAndGlyphs">mRNA</text>
<text x="436.22" y="719.90" font-size="12.80" font-weight="bold" fill="#000" textLength="27.88" lengthAdjust="spacingAndGlyphs">level</text>
<text x="470.77" y="719.90" font-size="12.80" font-weight="bold" fill="#000" textLength="26.23" lengthAdjust="spacingAndGlyphs">(AU)</text>
<text transform="translate(292.90 664.05) rotate(-90)" font-size="13.00" font-weight="bold" textLength="132.17" lengthAdjust="spacingAndGlyphs">serum albumin (g/dL)</text>
<text x="340.55" y="539.40" font-size="12.60" textLength="69.56" lengthAdjust="spacing">Rho = 0.450</text>
<text x="341.20" y="554.40" font-size="12.60" textLength="35.93" lengthAdjust="spacing"><tspan font-style="italic">P</tspan>&lt;.01</text>
<path fill="#000" d="M331.25 595.80a1.65 1.65 0 1 0 3.30 0a1.65 1.65 0 1 0 -3.30 0ZM383.75 566.50a1.65 1.65 0 1 0 3.30 0a1.65 1.65 0 1 0 -3.30 0ZM386.05 569.80a1.65 1.65 0 1 0 3.30 0a1.65 1.65 0 1 0 -3.30 0ZM400.65 622.10a1.65 1.65 0 1 0 3.30 0a1.65 1.65 0 1 0 -3.30 0ZM407.35 598.60a1.65 1.65 0 1 0 3.30 0a1.65 1.65 0 1 0 -3.30 0ZM413.55 609.30a1.65 1.65 0 1 0 3.30 0a1.65 1.65 0 1 0 -3.30 0ZM427.35 558.60a1.65 1.65 0 1 0 3.30 0a1.65 1.65 0 1 0 -3.30 0ZM428.65 573.00a1.65 1.65 0 1 0 3.30 0a1.65 1.65 0 1 0 -3.30 0ZM428.65 588.80a1.65 1.65 0 1 0 3.30 0a1.65 1.65 0 1 0 -3.30 0ZM431.95 565.30a1.65 1.65 0 1 0 3.30 0a1.65 1.65 0 1 0 -3.30 0ZM433.75 555.90a1.65 1.65 0 1 0 3.30 0a1.65 1.65 0 1 0 -3.30 0ZM433.45 597.40a1.65 1.65 0 1 0 3.30 0a1.65 1.65 0 1 0 -3.30 0ZM436.15 587.80a1.65 1.65 0 1 0 3.30 0a1.65 1.65 0 1 0 -3.30 0ZM436.25 608.00a1.65 1.65 0 1 0 3.30 0a1.65 1.65 0 1 0 -3.30 0ZM438.75 575.00a1.65 1.65 0 1 0 3.30 0a1.65 1.65 0 1 0 -3.30 0ZM440.85 556.40a1.65 1.65 0 1 0 3.30 0a1.65 1.65 0 1 0 -3.30 0ZM442.95 572.00a1.65 1.65 0 1 0 3.30 0a1.65 1.65 0 1 0 -3.30 0ZM443.35 577.20a1.65 1.65 0 1 0 3.30 0a1.65 1.65 0 1 0 -3.30 0ZM444.35 553.70a1.65 1.65 0 1 0 3.30 0a1.65 1.65 0 1 0 -3.30 0ZM444.55 555.90a1.65 1.65 0 1 0 3.30 0a1.65 1.65 0 1 0 -3.30 0ZM444.35 559.80a1.65 1.65 0 1 0 3.30 0a1.65 1.65 0 1 0 -3.30 0ZM448.15 598.60a1.65 1.65 0 1 0 3.30 0a1.65 1.65 0 1 0 -3.30 0ZM449.75 554.60a1.65 1.65 0 1 0 3.30 0a1.65 1.65 0 1 0 -3.30 0ZM450.95 553.50a1.65 1.65 0 1 0 3.30 0a1.65 1.65 0 1 0 -3.30 0ZM452.15 578.10a1.65 1.65 0 1 0 3.30 0a1.65 1.65 0 1 0 -3.30 0ZM452.95 570.70a1.65 1.65 0 1 0 3.30 0a1.65 1.65 0 1 0 -3.30 0ZM455.85 538.50a1.65 1.65 0 1 0 3.30 0a1.65 1.65 0 1 0 -3.30 0ZM459.75 562.50a1.65 1.65 0 1 0 3.30 0a1.65 1.65 0 1 0 -3.30 0ZM460.95 612.50a1.65 1.65 0 1 0 3.30 0a1.65 1.65 0 1 0 -3.30 0ZM465.05 576.00a1.65 1.65 0 1 0 3.30 0a1.65 1.65 0 1 0 -3.30 0ZM469.35 552.50a1.65 1.65 0 1 0 3.30 0a1.65 1.65 0 1 0 -3.30 0ZM469.55 566.90a1.65 1.65 0 1 0 3.30 0a1.65 1.65 0 1 0 -3.30 0ZM470.85 556.70a1.65 1.65 0 1 0 3.30 0a1.65 1.65 0 1 0 -3.30 0ZM474.15 534.20a1.65 1.65 0 1 0 3.30 0a1.65 1.65 0 1 0 -3.30 0ZM480.65 560.60a1.65 1.65 0 1 0 3.30 0a1.65 1.65 0 1 0 -3.30 0Z"/>
<line x1="59.90" y1="768.40" x2="233.20" y2="768.40" stroke="#a8a8a8" stroke-width="1.10"/>
<line x1="233.20" y1="768.40" x2="233.20" y2="922.30" stroke="#a8a8a8" stroke-width="1.10"/>
<line x1="59.90" y1="767.90" x2="59.90" y2="922.90" stroke="#7a7a7a" stroke-width="1.25"/>
<line x1="59.30" y1="922.30" x2="233.70" y2="922.30" stroke="#7a7a7a" stroke-width="1.25"/>
<line x1="56.40" y1="768.40" x2="59.90" y2="768.40" stroke="#7a7a7a" stroke-width="1.25"/>
<line x1="56.40" y1="785.50" x2="59.90" y2="785.50" stroke="#7a7a7a" stroke-width="1.25"/>
<line x1="56.40" y1="802.60" x2="59.90" y2="802.60" stroke="#7a7a7a" stroke-width="1.25"/>
<line x1="56.40" y1="819.70" x2="59.90" y2="819.70" stroke="#7a7a7a" stroke-width="1.25"/>
<line x1="56.40" y1="836.80" x2="59.90" y2="836.80" stroke="#7a7a7a" stroke-width="1.25"/>
<line x1="56.40" y1="853.90" x2="59.90" y2="853.90" stroke="#7a7a7a" stroke-width="1.25"/>
<line x1="56.40" y1="871.00" x2="59.90" y2="871.00" stroke="#7a7a7a" stroke-width="1.25"/>
<line x1="56.40" y1="888.10" x2="59.90" y2="888.10" stroke="#7a7a7a" stroke-width="1.25"/>
<line x1="56.40" y1="905.20" x2="59.90" y2="905.20" stroke="#7a7a7a" stroke-width="1.25"/>
<text x="41.85" y="775.02" font-size="12.60">4</text>
<text x="42.10" y="792.20" font-size="12.60">2</text>
<text x="42.00" y="809.25" font-size="12.60">0</text>
<text x="37.90" y="826.40" font-size="12.60">-2</text>
<text x="37.65" y="843.42" font-size="12.60">-4</text>
<text x="37.85" y="860.55" font-size="12.60">-6</text>
<text x="37.85" y="877.65" font-size="12.60">-8</text>
<text x="35.00" y="894.75" font-size="12.60">10</text>
<text x="35.10" y="911.90" font-size="12.60">12</text>
<text x="34.85" y="928.92" font-size="12.60">14</text>
<line x1="95.20" y1="922.30" x2="95.20" y2="925.80" stroke="#7a7a7a" stroke-width="1.25"/>
<line x1="130.40" y1="922.30" x2="130.40" y2="925.80" stroke="#7a7a7a" stroke-width="1.25"/>
<line x1="166.00" y1="922.30" x2="166.00" y2="925.80" stroke="#7a7a7a" stroke-width="1.25"/>
<line x1="199.90" y1="922.30" x2="199.90" y2="925.80" stroke="#7a7a7a" stroke-width="1.25"/>
<line x1="59.90" y1="922.30" x2="59.90" y2="925.80" stroke="#7a7a7a" stroke-width="1.25"/>
<text x="92.10" y="946.60" font-size="12.60" fill="#000" >0</text>
<text x="127.65" y="946.60" font-size="12.60" fill="#000" >1</text>
<text x="162.47" y="946.60" font-size="12.60" fill="#000" >2</text>
<text x="191.12" y="946.60" font-size="12.60" fill="#000" >3-4</text>
<text x="96.70" y="962.30" font-size="12.80" font-weight="bold" fill="#000" textLength="45.32" lengthAdjust="spacingAndGlyphs">fibrosis</text>
<text x="150.56" y="962.30" font-size="12.80" font-weight="bold" fill="#000" textLength="32.46" lengthAdjust="spacingAndGlyphs">stage</text>
<text transform="translate(26.80 930.99) rotate(-90)" font-size="13.00" font-weight="bold" textLength="168.23" lengthAdjust="spacingAndGlyphs">Hepcidin mRNA level (AU)</text>
<text x="67.45" y="898.80" font-size="12.60" textLength="77.65" lengthAdjust="spacing">Rho =  -0.380</text>
<text x="68.10" y="914.20" font-size="12.60" textLength="34.22" lengthAdjust="spacing"><tspan font-style="italic">P</tspan>&lt;.02</text>
<line x1="90.60" y1="808.20" x2="99.60" y2="808.20" stroke="#555" stroke-width="1.20"/>
<line x1="126.00" y1="816.30" x2="134.80" y2="816.30" stroke="#555" stroke-width="1.20"/>
<line x1="161.20" y1="819.80" x2="170.20" y2="819.80" stroke="#999" stroke-width="1.20"/>
<line x1="195.60" y1="836.10" x2="204.40" y2="836.10" stroke="#999" stroke-width="1.20"/>
<path fill="#000" d="M95.00 785.00L97.60 787.50L95.00 790.00L92.40 787.50ZM95.00 788.80L97.60 791.30L95.00 793.80L92.40 791.30ZM95.00 797.90L97.60 800.40L95.00 802.90L92.40 800.40ZM95.00 806.50L97.60 809.00L95.00 811.50L92.40 809.00ZM95.00 812.30L97.60 814.80L95.00 817.30L92.40 814.80ZM95.00 814.80L97.60 817.30L95.00 819.80L92.40 817.30ZM95.00 817.10L97.60 819.60L95.00 822.10L92.40 819.60ZM95.00 823.50L97.60 826.00L95.00 828.50L92.40 826.00ZM130.20 779.40L132.80 781.90L130.20 784.40L127.60 781.90ZM130.20 789.80L132.80 792.30L130.20 794.80L127.60 792.30ZM130.20 798.80L132.80 801.30L130.20 803.80L127.60 801.30ZM130.20 801.30L132.80 803.80L130.20 806.30L127.60 803.80ZM130.20 803.80L132.80 806.30L130.20 808.80L127.60 806.30ZM130.20 806.50L132.80 809.00L130.20 811.50L127.60 809.00ZM130.20 813.80L132.80 816.30L130.20 818.80L127.60 816.30ZM130.20 819.40L132.80 821.90L130.20 824.40L127.60 821.90ZM130.20 821.90L132.80 824.40L130.20 826.90L127.60 824.40ZM130.20 826.90L132.80 829.40L130.20 831.90L127.60 829.40ZM130.20 845.60L132.80 848.10L130.20 850.60L127.60 848.10ZM130.20 865.50L132.80 868.00L130.20 870.50L127.60 868.00ZM165.60 789.30L168.20 791.80L165.60 794.30L163.00 791.80ZM165.60 793.80L168.20 796.30L165.60 798.80L163.00 796.30ZM165.60 805.60L168.20 808.10L165.60 810.60L163.00 808.10ZM165.60 812.80L168.20 815.30L165.60 817.80L163.00 815.30ZM165.60 839.70L168.20 842.20L165.60 844.70L163.00 842.20ZM165.60 867.40L168.20 869.90L165.60 872.40L163.00 869.90ZM199.90 809.00L202.50 811.50L199.90 814.00L197.30 811.50ZM199.90 812.50L202.50 815.00L199.90 817.50L197.30 815.00ZM199.90 819.40L202.50 821.90L199.90 824.40L197.30 821.90ZM199.90 822.10L202.50 824.60L199.90 827.10L197.30 824.60ZM199.90 827.40L202.50 829.90L199.90 832.40L197.30 829.90ZM199.90 850.90L202.50 853.40L199.90 855.90L197.30 853.40ZM199.90 913.90L202.50 916.40L199.90 918.90L197.30 916.40Z"/>
<line x1="329.00" y1="767.50" x2="498.50" y2="767.50" stroke="#a8a8a8" stroke-width="1.10"/>
<line x1="498.50" y1="767.50" x2="498.50" y2="923.60" stroke="#a8a8a8" stroke-width="1.10"/>
<line x1="329.00" y1="767.00" x2="329.00" y2="924.20" stroke="#7a7a7a" stroke-width="1.25"/>
<line x1="328.40" y1="923.60" x2="499.00" y2="923.60" stroke="#7a7a7a" stroke-width="1.25"/>
<line x1="325.80" y1="923.60" x2="329.00" y2="923.60" stroke="#7a7a7a" stroke-width="1.25"/>
<line x1="325.80" y1="906.26" x2="329.00" y2="906.26" stroke="#7a7a7a" stroke-width="1.25"/>
<line x1="325.80" y1="888.92" x2="329.00" y2="888.92" stroke="#7a7a7a" stroke-width="1.25"/>
<line x1="325.80" y1="871.58" x2="329.00" y2="871.58" stroke="#7a7a7a" stroke-width="1.25"/>
<line x1="325.80" y1="854.24" x2="329.00" y2="854.24" stroke="#7a7a7a" stroke-width="1.25"/>
<line x1="325.80" y1="836.90" x2="329.00" y2="836.90" stroke="#7a7a7a" stroke-width="1.25"/>
<line x1="325.80" y1="819.56" x2="329.00" y2="819.56" stroke="#7a7a7a" stroke-width="1.25"/>
<line x1="325.80" y1="802.22" x2="329.00" y2="802.22" stroke="#7a7a7a" stroke-width="1.25"/>
<line x1="325.80" y1="784.88" x2="329.00" y2="784.88" stroke="#7a7a7a" stroke-width="1.25"/>
<line x1="325.80" y1="767.54" x2="329.00" y2="767.54" stroke="#7a7a7a" stroke-width="1.25"/>
<text x="313.20" y="928.45" font-size="12.60">0</text>
<text x="306.90" y="911.53" font-size="12.60">50</text>
<text x="300.60" y="894.61" font-size="12.60">100</text>
<text x="300.60" y="877.69" font-size="12.60">150</text>
<text x="300.60" y="860.77" font-size="12.60">200</text>
<text x="300.60" y="843.85" font-size="12.60">250</text>
<text x="300.60" y="826.93" font-size="12.60">300</text>
<text x="300.60" y="810.01" font-size="12.60">350</text>
<text x="300.60" y="793.09" font-size="12.60">400</text>
<text x="300.60" y="776.17" font-size="12.60">450</text>
<line x1="363.00" y1="923.60" x2="363.00" y2="926.60" stroke="#7a7a7a" stroke-width="1.25"/>
<line x1="396.30" y1="923.60" x2="396.30" y2="926.60" stroke="#7a7a7a" stroke-width="1.25"/>
<line x1="430.20" y1="923.60" x2="430.20" y2="926.60" stroke="#7a7a7a" stroke-width="1.25"/>
<line x1="464.80" y1="923.60" x2="464.80" y2="926.60" stroke="#7a7a7a" stroke-width="1.25"/>
<line x1="329.00" y1="923.60" x2="329.00" y2="927.10" stroke="#7a7a7a" stroke-width="1.25"/>
<text x="359.60" y="948.30" font-size="12.60" fill="#000" >0</text>
<text x="393.55" y="948.30" font-size="12.60" fill="#000" >1</text>
<text x="426.28" y="948.30" font-size="12.60" fill="#000" >2</text>
<text x="454.82" y="948.30" font-size="12.60" fill="#000" >3-4</text>
<text x="371.80" y="963.20" font-size="12.80" font-weight="bold" fill="#000" textLength="45.22" lengthAdjust="spacingAndGlyphs">fibrosis</text>
<text x="425.57" y="963.20" font-size="12.80" font-weight="bold" fill="#000" textLength="32.15" lengthAdjust="spacingAndGlyphs">stage</text>
<text transform="translate(275.30 899.90) rotate(-90)" font-size="13.00" font-weight="bold" textLength="103.08" lengthAdjust="spacingAndGlyphs">Urinary hepcidin</text>
<text transform="translate(291.80 902.76) rotate(-90)" font-size="13.00" font-weight="bold" textLength="118.61" lengthAdjust="spacingAndGlyphs">(ng/mg creatinine )</text>
<text x="418.05" y="785.80" font-size="12.60" textLength="74.40" lengthAdjust="spacing">Rho = -0.356</text>
<text x="418.70" y="800.60" font-size="12.60" textLength="34.58" lengthAdjust="spacing"><tspan font-style="italic">P</tspan>&lt;.04</text>
<line x1="359.20" y1="873.50" x2="366.50" y2="873.50" stroke="#999" stroke-width="1.20"/>
<line x1="392.80" y1="864.90" x2="400.00" y2="864.90" stroke="#999" stroke-width="1.20"/>
<line x1="426.30" y1="899.60" x2="434.40" y2="899.60" stroke="#999" stroke-width="1.20"/>
<line x1="461.30" y1="905.30" x2="469.00" y2="905.30" stroke="#777" stroke-width="1.20"/>
<path fill="#000" d="M362.80 789.60L364.90 791.90L362.80 794.20L360.70 791.90ZM362.80 814.70L364.90 817.00L362.80 819.30L360.70 817.00ZM362.80 863.50L364.90 865.80L362.80 868.10L360.70 865.80ZM362.80 876.50L364.90 878.80L362.80 881.10L360.70 878.80ZM362.80 883.90L364.90 886.20L362.80 888.50L360.70 886.20ZM362.80 912.30L364.90 914.60L362.80 916.90L360.70 914.60ZM362.80 916.90L364.90 919.20L362.80 921.50L360.70 919.20ZM362.80 920.00L364.90 922.30L362.80 924.60L360.70 922.30ZM396.20 784.50L398.30 786.80L396.20 789.10L394.10 786.80ZM396.20 800.70L398.30 803.00L396.20 805.30L394.10 803.00ZM396.20 824.20L398.30 826.50L396.20 828.80L394.10 826.50ZM396.20 834.20L398.30 836.50L396.20 838.80L394.10 836.50ZM396.20 857.40L398.30 859.70L396.20 862.00L394.10 859.70ZM396.20 870.50L398.30 872.80L396.20 875.10L394.10 872.80ZM396.20 875.40L398.30 877.70L396.20 880.00L394.10 877.70ZM396.20 881.20L398.30 883.50L396.20 885.80L394.10 883.50ZM396.20 882.60L398.30 884.90L396.20 887.20L394.10 884.90ZM396.20 907.70L398.30 910.00L396.20 912.30L394.10 910.00ZM396.20 915.40L398.30 917.70L396.20 920.00L394.10 917.70ZM396.20 920.50L398.30 922.80L396.20 925.10L394.10 922.80ZM430.20 873.90L432.30 876.20L430.20 878.50L428.10 876.20ZM430.20 879.20L432.30 881.50L430.20 883.80L428.10 881.50ZM430.20 906.90L432.30 909.20L430.20 911.50L428.10 909.20ZM430.20 919.20L432.30 921.50L430.20 923.80L428.10 921.50ZM430.20 921.00L432.30 923.30L430.20 925.60L428.10 923.30ZM464.80 854.60L466.90 856.90L464.80 859.20L462.70 856.90ZM464.80 893.90L466.90 896.20L464.80 898.50L462.70 896.20ZM464.80 896.20L466.90 898.50L464.80 900.80L462.70 898.50ZM464.80 898.50L466.90 900.80L464.80 903.10L462.70 900.80ZM464.80 900.50L466.90 902.80L464.80 905.10L462.70 902.80ZM464.80 903.70L466.90 906.00L464.80 908.30L462.70 906.00ZM464.80 919.20L466.90 921.50L464.80 923.80L462.70 921.50ZM464.80 921.00L466.90 923.30L464.80 925.60L462.70 923.30Z"/>
<g id="foot1" fill="#fff"><rect x="34.77" y="153.81" width="3.24" height="3.48"/><rect x="39.23" y="153.81" width="2.80" height="3.48"/><rect x="34.77" y="136.93" width="3.24" height="3.48"/><rect x="39.23" y="136.93" width="2.80" height="3.48"/><rect x="52.75" y="204.82" width="3.32" height="3.48"/><rect x="57.31" y="204.82" width="2.87" height="3.48"/><rect x="71.38" y="204.82" width="3.32" height="3.48"/><rect x="75.94" y="204.82" width="2.87" height="3.48"/><rect x="90.02" y="204.82" width="3.32" height="3.48"/><rect x="94.58" y="204.82" width="2.87" height="3.48"/><rect x="137.17" y="47.32" width="3.24" height="3.48"/><rect x="141.62" y="47.32" width="2.80" height="3.48"/><rect x="110.35" y="61.82" width="3.24" height="3.48"/><rect x="114.80" y="61.82" width="2.80" height="3.48"/><rect x="299.37" y="154.59" width="3.24" height="3.48"/><rect x="303.83" y="154.59" width="2.80" height="3.48"/><rect x="299.37" y="137.10" width="3.24" height="3.48"/><rect x="303.83" y="137.10" width="2.80" height="3.48"/><rect x="324.13" y="206.22" width="3.24" height="3.48"/><rect x="328.59" y="206.22" width="2.80" height="3.48"/><rect x="37.77" y="371.07" width="3.24" height="3.48"/><rect x="42.23" y="371.07" width="2.80" height="3.48"/><rect x="37.77" y="339.57" width="3.24" height="3.48"/><rect x="42.23" y="339.57" width="2.80" height="3.48"/><rect x="55.05" y="453.32" width="3.18" height="3.48"/><rect x="59.42" y="453.32" width="2.75" height="3.48"/><rect x="72.92" y="453.32" width="3.18" height="3.48"/><rect x="77.29" y="453.32" width="2.75" height="3.48"/><rect x="90.79" y="453.32" width="3.18" height="3.48"/><rect x="95.17" y="453.32" width="2.75" height="3.48"/><rect x="103.19" y="305.92" width="3.24" height="3.48"/><rect x="107.64" y="305.92" width="2.80" height="3.48"/><rect x="299.17" y="373.97" width="3.24" height="3.48"/><rect x="303.63" y="373.97" width="2.80" height="3.48"/><rect x="299.17" y="342.77" width="3.24" height="3.48"/><rect x="303.63" y="342.77" width="2.80" height="3.48"/><rect x="352.82" y="452.32" width="3.24" height="3.48"/><rect x="357.28" y="452.32" width="2.80" height="3.48"/><rect x="30.57" y="625.63" width="3.24" height="3.48"/><rect x="35.03" y="625.63" width="2.80" height="3.48"/><rect x="30.67" y="599.96" width="3.24" height="3.48"/><rect x="35.13" y="599.96" width="2.80" height="3.48"/><rect x="30.42" y="574.17" width="3.24" height="3.48"/><rect x="34.88" y="574.17" width="2.80" height="3.48"/><rect x="30.62" y="548.47" width="3.24" height="3.48"/><rect x="35.08" y="548.47" width="2.80" height="3.48"/><rect x="30.62" y="522.75" width="3.24" height="3.48"/><rect x="35.08" y="522.75" width="2.80" height="3.48"/><rect x="47.10" y="694.22" width="3.32" height="3.48"/><rect x="51.67" y="694.22" width="2.87" height="3.48"/><rect x="65.76" y="694.22" width="3.32" height="3.48"/><rect x="70.32" y="694.22" width="2.87" height="3.48"/><rect x="84.41" y="694.22" width="3.32" height="3.48"/><rect x="88.97" y="694.22" width="2.87" height="3.48"/><rect x="308.57" y="655.04" width="3.24" height="3.48"/><rect x="313.03" y="655.04" width="2.80" height="3.48"/><rect x="318.76" y="696.32" width="3.09" height="3.48"/><rect x="323.01" y="696.32" width="2.67" height="3.48"/><rect x="341.01" y="696.32" width="3.24" height="3.48"/><rect x="345.47" y="696.32" width="2.80" height="3.48"/><rect x="362.76" y="696.32" width="3.29" height="3.48"/><rect x="367.29" y="696.32" width="2.84" height="3.48"/><rect x="369.99" y="552.42" width="3.24" height="3.48"/><rect x="374.44" y="552.42" width="2.80" height="3.48"/><rect x="34.87" y="892.77" width="3.24" height="3.48"/><rect x="39.33" y="892.77" width="2.80" height="3.48"/><rect x="34.97" y="909.92" width="3.24" height="3.48"/><rect x="39.43" y="909.92" width="2.80" height="3.48"/><rect x="34.72" y="926.94" width="3.24" height="3.48"/><rect x="39.18" y="926.94" width="2.80" height="3.48"/><rect x="127.52" y="944.62" width="3.24" height="3.48"/><rect x="131.98" y="944.62" width="2.80" height="3.48"/><rect x="300.47" y="892.63" width="3.24" height="3.48"/><rect x="304.93" y="892.63" width="2.80" height="3.48"/><rect x="300.47" y="875.71" width="3.24" height="3.48"/><rect x="304.93" y="875.71" width="2.80" height="3.48"/><rect x="393.42" y="946.32" width="3.24" height="3.48"/><rect x="397.88" y="946.32" width="2.80" height="3.48"/></g>
</svg>
</body></html>
